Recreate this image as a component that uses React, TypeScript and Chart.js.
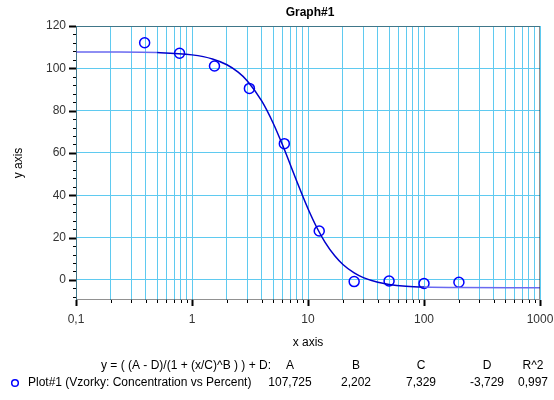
import React, { useEffect, useRef } from "react";
import { Chart, registerables } from "chart.js";

Chart.register(...registerables);

// Measured points (Concentration vs Percent)
const pointX = [0.390625, 0.78125, 1.5625, 3.125, 6.25, 12.5, 25, 50, 100, 200];
const pointY = [112.1, 107.1, 101.1, 90.5, 64.4, 23.1, -0.8, -0.5, -1.7, -1.1];

// Fitted curve
const curveX = [0.1, 0.2, 0.5, 1, 1.5, 2, 2.5, 3, 4, 5, 6, 7, 8, 9, 10, 12, 14, 17, 20, 25, 30, 40, 50, 70, 100, 200, 1000];
const curveY = [107.72, 107.69, 107.42, 106.35, 104.44, 101.69, 98.18, 94.05, 84.47, 74.17, 64.08, 54.82, 46.64, 39.61, 33.64, 24.41, 17.88, 11.38, 7.29, 3.28, 1.06, -1.14, -2.13, -2.96, -3.38, -3.65, -3.72];

const xMajorTicks = [0.1, 1, 10, 100, 1000];
const xMajorLabels = ["0,1", "1", "10", "100", "1000"];
const yTicks = [0, 20, 40, 60, 80, 100, 120];

const fitHeaders = ["A", "B", "C", "D", "R^2"];
const fitValues = ["107,725", "2,202", "7,329", "-3,729", "0,997"];
const formulaText = "y = ( (A - D)/(1 + (x/C)^B ) ) + D:";
const legendText = "Plot#1 (Vzorky: Concentration vs Percent)";
const titleText = "Graph#1";

const FONT = "'Liberation Sans', Arial, sans-serif";

function buildXTicks(): { value: number; major: boolean }[] {
  const out: { value: number; major: boolean }[] = [];
  for (let d = 0; d < xMajorTicks.length - 1; d++) {
    const base = xMajorTicks[d];
    for (let k = 1; k <= 9; k++) {
      out.push({ value: +(base * k).toPrecision(6), major: k === 1 });
    }
  }
  out.push({ value: xMajorTicks[xMajorTicks.length - 1], major: true });
  return out;
}

const decorPlugin = {
  id: "decor",
  afterDraw(chart: any) {
    const ctx = chart.ctx as CanvasRenderingContext2D;
    const a = chart.chartArea;
    const xs = chart.scales.x;
    const ys = chart.scales.y;
    ctx.save();
    // frame
    ctx.strokeStyle = "#222";
    ctx.lineWidth = 1;
    ctx.setLineDash([1, 1]);
    ctx.strokeRect(a.left + 0.5, a.top + 0.5, a.right - a.left - 1, a.bottom - a.top - 1);
    ctx.setLineDash([]);
    ctx.strokeStyle = "#000";
    // y ticks
    for (let v = -8; v <= 120; v += 4) {
      const y = Math.round(ys.getPixelForValue(v)) + 0.5;
      const major = v % 20 === 0;
      ctx.lineWidth = major ? 2 : 1;
      ctx.beginPath();
      ctx.moveTo(a.left - (major ? 7 : 3), y);
      ctx.lineTo(a.left, y);
      ctx.stroke();
    }
    // x ticks
    for (const t of buildXTicks()) {
      const x = Math.round(xs.getPixelForValue(t.value)) + 0.5;
      ctx.lineWidth = t.major ? 2 : 1;
      ctx.beginPath();
      ctx.moveTo(x, a.bottom);
      ctx.lineTo(x, a.bottom + (t.major ? 6 : 3));
      ctx.stroke();
    }
    // texts
    ctx.fillStyle = "#000";
    ctx.textBaseline = "middle";
    ctx.textAlign = "center";
    ctx.font = "bold 12px " + FONT;
    ctx.fillText(titleText, (a.left + a.right) / 2 + 2, 13);
    ctx.font = "12px " + FONT;
    ctx.fillText("x axis", (a.left + a.right) / 2, 343);
    ctx.save();
    ctx.translate(19, (a.top + a.bottom) / 2);
    ctx.rotate(-Math.PI / 2);
    ctx.fillText("y axis", 0, 0);
    ctx.restore();
    ctx.textAlign = "right";
    ctx.fillText(formulaText, 271, 366);
    ctx.textAlign = "center";
    const cols = [290, 356, 421, 487, 533];
    fitHeaders.forEach((h, i) => ctx.fillText(h, cols[i], 366));
    fitValues.forEach((h, i) => ctx.fillText(h, cols[i], 383));
    ctx.textAlign = "left";
    ctx.fillText(legendText, 28, 383);
    ctx.strokeStyle = "#0000ff";
    ctx.lineWidth = 1.5;
    ctx.beginPath();
    ctx.arc(15, 383, 3.3, 0, Math.PI * 2);
    ctx.stroke();
    ctx.restore();
  },
};

export default function App() {
  const ref = useRef<HTMLCanvasElement | null>(null);
  useEffect(() => {
    if (!ref.current) return;
    const chart = new Chart(ref.current, {
      type: "scatter",
      data: {
        datasets: [
          {
            type: "line",
            data: curveX.map((x, i) => ({ x, y: curveY[i] })),
            borderColor: "#0000cc",
            borderWidth: 1.5,
            pointRadius: 0,
            cubicInterpolationMode: "monotone",
            fill: false,
            segment: {
              borderColor: (c: any) =>
                c.p0.parsed.x >= 0.5 && c.p1.parsed.x <= 100 ? "#0000cc" : "#6a6af0",
            },
          } as any,
          {
            type: "scatter",
            data: pointX.map((x, i) => ({ x, y: pointY[i] })),
            borderColor: "#0000ff",
            backgroundColor: "rgba(255,255,255,0)",
            borderWidth: 1.5,
            pointRadius: 5,
            pointStyle: "circle",
            showLine: false,
          },
        ],
      },
      options: {
        animation: false,
        responsive: false,
        devicePixelRatio: 1,
        layout: { padding: { top: 26, right: 14, left: 0, bottom: 0 } },
        plugins: { legend: { display: false }, title: { display: false }, tooltip: { enabled: false } },
        scales: {
          x: {
            type: "logarithmic",
            min: 0.1,
            max: 1000,
            afterBuildTicks: (s: any) => {
              s.ticks = buildXTicks();
            },
            afterFit: (s: any) => {
              s.height = 100;
              s.paddingLeft = 0;
              s.paddingRight = 0;
            },
            ticks: {
              autoSkip: false,
              maxRotation: 0,
              padding: 12,
              color: "#333",
              font: { family: FONT, size: 12 },
              callback: (v: any) => {
                const i = xMajorTicks.findIndex((m) => Math.abs(m - v) < 1e-9);
                return i >= 0 ? xMajorLabels[i] : "";
              },
            },
            grid: { color: "#5fcaf0", lineWidth: 1, drawTicks: false },
            border: { display: false },
          },
          y: {
            type: "linear",
            min: -9.5,
            max: 120,
            afterBuildTicks: (s: any) => {
              s.ticks = yTicks.map((v) => ({ value: v }));
            },
            afterFit: (s: any) => {
              s.width = 76;
              s.paddingTop = 0;
              s.paddingBottom = 0;
            },
            ticks: {
              padding: 10,
              color: "#333",
              font: { family: FONT, size: 12 },
            },
            grid: { color: "#5fcaf0", lineWidth: 1, drawTicks: false },
            border: { display: false },
          },
        },
      },
      plugins: [decorPlugin],
    } as any);
    return () => chart.destroy();
  }, []);
  return (
    <div style={{ position: "absolute", left: 0, top: 0, width: 554, height: 400, background: "#fff" }}>
      <canvas ref={ref} width={554} height={400} />
    </div>
  );
}
